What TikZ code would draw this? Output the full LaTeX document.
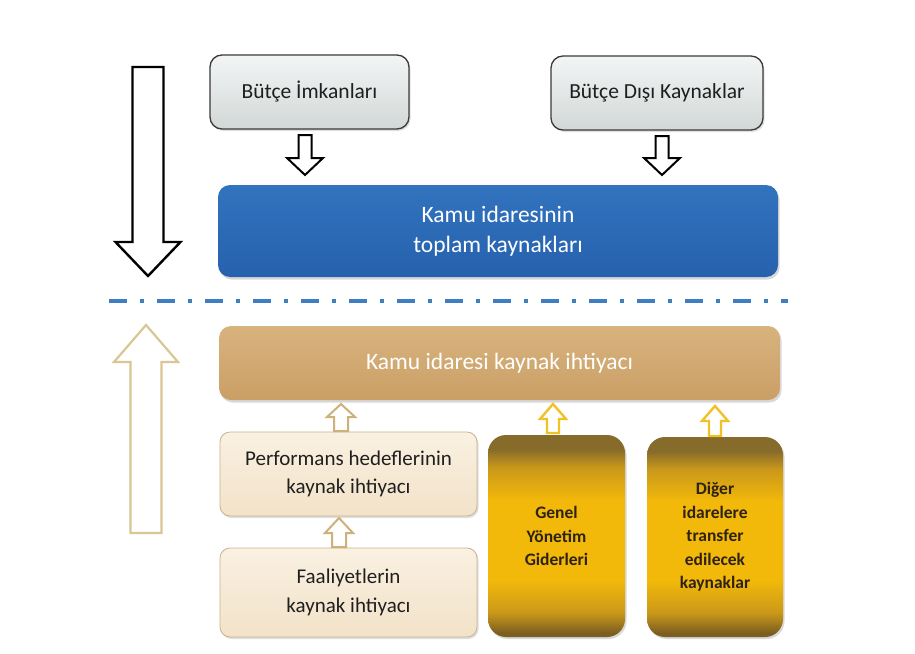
\documentclass[tikz,border=0pt]{standalone}
\usepackage{fontspec}
\setmainfont{Carlito}
\usetikzlibrary{shadows}
\definecolor{greytop}{HTML}{F3F5F5}
\definecolor{greybot}{HTML}{D2D8D7}
\definecolor{greyline}{HTML}{3A3A3A}
\definecolor{bluetop}{HTML}{3273BE}
\definecolor{bluebot}{HTML}{2661AE}
\definecolor{tantop}{HTML}{D8B37E}
\definecolor{tanbot}{HTML}{CA9F66}
\definecolor{creamtop}{HTML}{FAF1E2}
\definecolor{creambot}{HTML}{F2E2C8}
\definecolor{creamline}{HTML}{C9B28C}
\definecolor{tanarrow}{HTML}{CDB07A}
\definecolor{bigtan}{HTML}{D9C793}
\definecolor{yelarrow}{HTML}{F0C228}
\definecolor{dashblue}{HTML}{3F7EC0}
\definecolor{gdark}{HTML}{7C5E20}
\definecolor{gtop}{HTML}{866B2A}
\definecolor{gbright}{HTML}{F2B80A}
\definecolor{gmid}{HTML}{C9981A}
\definecolor{goldtext}{HTML}{2E2312}
\definecolor{darktext}{HTML}{1F1F1F}
\pgfdeclareverticalshading{goldshade}{100bp}{color(0bp)=(gdark); color(26bp)=(gdark); color(31bp)=(gmid); color(39bp)=(gbright); color(59bp)=(gbright); color(67bp)=(gmid); color(71.5bp)=(gtop); color(100bp)=(gtop)}
\newcommand\blockarr[7]{%
  \draw[#7] ({#1-#4},{#2}) -- ({#1-#4},{#6}) -- ({#1-#5},{#6}) -- ({#1},{#3})
    -- ({#1+#5},{#6}) -- ({#1+#4},{#6}) -- ({#1+#4},{#2}) -- cycle;}
\tikzset{
  box/.style={rounded corners=12pt, minimum width=#1, inner sep=4pt, outer sep=0pt, align=center},
  greybox/.style={box=#1, draw=greyline, line width=1.3pt, top color=greytop, bottom color=greybot,
    text=darktext, font=\fontsize{21.5}{25}\selectfont,
    drop shadow={shadow xshift=1.5pt, shadow yshift=-2pt, opacity=0.25}},
  bluebox/.style={box=#1, draw=none, top color=bluetop, bottom color=bluebot, text=white,
    font=\fontsize{23.5}{30}\selectfont,
    drop shadow={shadow xshift=1.5pt, shadow yshift=-2.5pt, opacity=0.3}},
  tanbox/.style={box=#1, draw=none, top color=tantop, bottom color=tanbot, text=white,
    font=\fontsize{23.5}{28}\selectfont,
    drop shadow={shadow xshift=1.5pt, shadow yshift=-2.5pt, opacity=0.3}},
  creambox/.style={box=#1, rounded corners=10pt, draw=creamline, line width=0.8pt,
    top color=creamtop, bottom color=creambot, text=darktext,
    font=\fontsize{21}{28.5}\selectfont,
    drop shadow={shadow xshift=1.5pt, shadow yshift=-2pt, opacity=0.25}},
  goldbox/.style={box=#1, rounded corners=18pt, draw=none, shading=goldshade, text=goldtext,
    font=\bfseries\fontsize{17.5}{23.5}\selectfont,
    drop shadow={shadow xshift=1.5pt, shadow yshift=-2pt, opacity=0.3}},
  blackarr/.style={draw=black, fill=white, line width=2pt, line join=miter},
  bigblackarr/.style={draw=black, fill=white, line width=2.4pt, line join=miter},
  tanarr/.style={draw=tanarrow, fill=white, line width=2pt, line join=miter},
  bigtanarr/.style={draw=bigtan, fill=white, line width=2.2pt, line join=miter},
  yelarr/.style={draw=yelarrow, fill=white, line width=2.4pt, line join=miter},
}
\begin{document}
\begin{tikzpicture}[x=1pt,y=-1pt]
\useasboundingbox (0,0) rectangle (915,653);
\fill[white] (0,0) rectangle (915,653);

% boxes
\node[greybox=199pt, minimum height=74pt] (bi) at (309.5,92) {Bütçe İmkanları};
\node[greybox=212pt, minimum height=74pt] (bd) at (657,93) {Bütçe Dışı Kaynaklar};
\node[bluebox=560pt, minimum height=92pt] (blue) at (498,231) {Kamu idaresinin\\toplam kaynakları};
\node[tanbox=561pt, minimum height=74pt] (tan) at (499.5,363) {Kamu idaresi kaynak ihtiyacı};
\node[creambox=257pt, minimum height=84pt] (perf) at (348.5,474) {Performans hedeflerinin\\kaynak ihtiyacı};
\node[creambox=257pt, minimum height=89pt] (faal) at (348.5,592.5) {Faaliyetlerin\\kaynak ihtiyacı};
\node[goldbox=137pt, minimum height=202pt] (genel) at (556.5,536) {Genel\\Yönetim\\Giderleri};
\node[goldbox=136pt, minimum height=200pt] (diger) at (715,537) {Diğer\\idarelere\\transfer\\edilecek\\kaynaklar};

% dash-dot separator
\coordinate (sepL) at (109,301);
\coordinate (sepR) at (788,301);
\draw[dashblue, line width=4.5pt, dash pattern=on 18pt off 13pt on 4pt off 13pt] (sepL) -- (sepR);

% big side arrows
\blockarr{148}{67}{276}{15.5}{32.5}{242}{bigblackarr}
\blockarr{146}{533}{325}{15.5}{32}{362}{bigtanarr}

% small arrows
\blockarr{305}{135}{175}{6.5}{18}{158}{blackarr}
\blockarr{662}{136}{175}{6.5}{18}{158}{blackarr}
\blockarr{341}{431}{404}{7}{14}{417}{tanarr}
\blockarr{339}{547}{518}{7}{14}{533}{tanarr}
\blockarr{553}{433}{404}{6}{13}{419}{yelarr}
\blockarr{715}{436}{406}{6}{13}{421}{yelarr}
\end{tikzpicture}
\end{document}
